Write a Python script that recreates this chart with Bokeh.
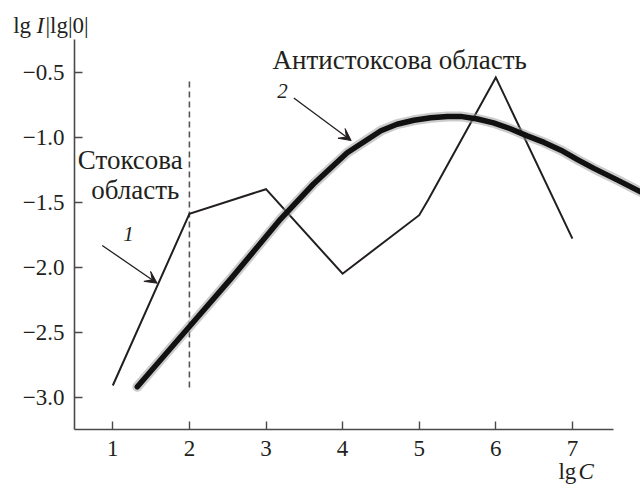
from bokeh.plotting import figure
from bokeh.models import Range1d, FixedTicker, Label, Arrow, VeeHead, LinearAxis
from bokeh.embed import file_html
from bokeh.resources import INLINE

# ---- data ----
curve1_x = [1, 2, 3, 4, 5, 5.12, 6, 7]
curve1_y = [-2.91, -1.59, -1.40, -2.05, -1.60, -1.48, -0.54, -1.78]

curve2_x = [1.32, 2.01, 2.54, 3.19, 3.62, 4.06, 4.50, 4.71, 4.93, 5.15, 5.37, 5.54,
            5.76, 5.97, 6.19, 6.41, 6.63, 6.85, 7.06, 7.28, 7.59, 7.89]
curve2_y = [-2.92, -2.45, -2.09, -1.63, -1.36, -1.12, -0.95, -0.90, -0.87, -0.85, -0.84, -0.84,
            -0.86, -0.89, -0.935, -0.99, -1.04, -1.10, -1.17, -1.24, -1.33, -1.42]

boundary_x = [2, 2]
boundary_y = [-2.925, -0.564]

x_ticks = [1, 2, 3, 4, 5, 6, 7]
y_ticks = [-3.0, -2.5, -2.0, -1.5, -1.0, -0.5]
y_tick_labels = ["\u22123.0", "\u22122.5", "\u22122.0", "\u22121.5", "\u22121.0", "\u22120.5"]

FONT = "Liberation Serif"
INK = "#231f20"
AXIS = "#4a4a4a"

p = figure(width=640, height=488, output_backend="svg", toolbar_location=None,
           x_range=Range1d(-0.4661, 7.889), y_range=Range1d(-3.7023, 0.0515),
           x_axis_location=None, y_axis_location=None, min_border=0)
p.outline_line_color = None
p.xgrid.visible = False
p.ygrid.visible = False
p.background_fill_color = "white"
p.border_fill_color = "white"

xax = LinearAxis(fixed_location=-3.246, ticker=FixedTicker(ticks=x_ticks), bounds=(0.5, 7.535))
yax = LinearAxis(fixed_location=0.5, ticker=FixedTicker(ticks=y_ticks), bounds=(-3.246, -0.249))
yax.major_label_overrides = {t: l for t, l in zip(y_ticks, y_tick_labels)}
for ax in (xax, yax):
    ax.axis_line_color = AXIS
    ax.axis_line_width = 1.6
    ax.major_tick_line_color = AXIS
    ax.major_tick_line_width = 1.4
    ax.major_tick_in = 8
    ax.major_tick_out = 0
    ax.minor_tick_line_color = None
    ax.major_label_text_font = FONT
    ax.major_label_text_font_size = "23px"
    ax.major_label_text_color = INK
xax.major_label_standoff = 12
yax.major_label_standoff = 10
p.add_layout(xax, "below")
p.add_layout(yax, "left")

# dashed boundary
p.line(boundary_x, boundary_y, line_color="#555555", line_width=1.6, line_dash="6 4")

# thin curve 1
p.line(curve1_x, curve1_y, line_color=INK, line_width=2.0, line_join="miter")

# thick curve 2 with soft halo
p.line(curve2_x, curve2_y, line_color="#9a9a9a", line_width=10, line_alpha=0.5,
       line_join="round", line_cap="round")
p.line(curve2_x, curve2_y, line_color="#111111", line_width=5.5,
       line_join="round", line_cap="round")

# arrows
p.add_layout(Arrow(x_start=0.862, y_start=-1.833, x_end=1.579, y_end=-2.123,
                   line_color=INK, line_width=1.3,
                   end=VeeHead(size=12, fill_color=INK, line_color=INK, line_width=1)))
p.add_layout(Arrow(x_start=3.363, y_start=-0.698, x_end=4.112, y_end=-1.026,
                   line_color=INK, line_width=1.3,
                   end=VeeHead(size=12, fill_color=INK, line_color=INK, line_width=1)))

def lab(x, y, text, size, style="normal"):
    p.add_layout(Label(x=x, y=y, text=text, text_font=FONT, text_font_size=size,
                       text_font_style=style, text_color=INK, text_baseline="middle",
                       text_align="left"))

# texts (y = vertical centre of the capitals)
lab(3.085, -0.410, "Антистоксова область", "27px")
lab(0.543, -1.173, "Стоксова", "27px")
lab(0.718, -1.405, "область", "27px")
lab(3.146, -0.645, "2", "21px", "italic")
lab(1.136, -1.745, "1", "21px", "italic")

# y axis title (top left)
lab(-0.300, -0.140, "lg", "23px")
lab(0.004, -0.140, "I", "23px", "italic")
lab(0.121, -0.140, "|lg|0|", "23px")

# x axis title (bottom right)
lab(6.818, -3.575, "lg", "23px")
lab(7.079, -3.575, "C", "23px", "italic")

open("out.html", "w").write(file_html(p, INLINE))
